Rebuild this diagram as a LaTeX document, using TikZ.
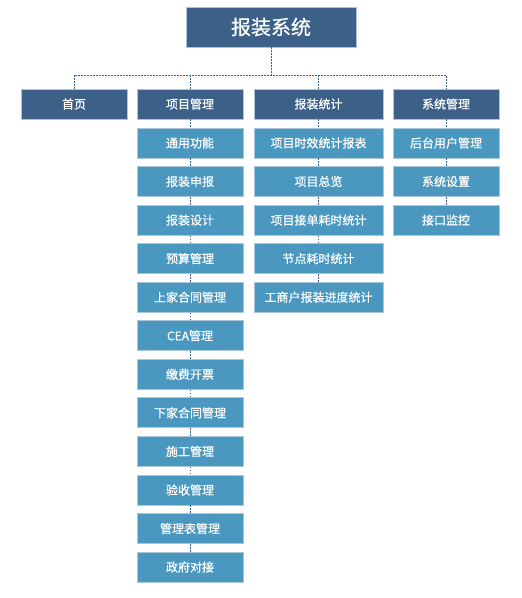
\documentclass[tikz,border=0pt]{standalone}
\usepackage{fontspec}
\setmainfont{Noto Sans CJK SC}[FakeBold=0.6]
\begin{document}
\begin{tikzpicture}[x=1pt,y=-1pt,
  dark/.style={fill=boxdark,draw=edge,line width=0.8pt,text=white,inner sep=0pt},
  light/.style={fill=boxlight,draw=edge,line width=0.8pt,text=white,inner sep=0pt},
  lvl/.style={dark,minimum height=30pt,font=\fontsize{12}{14}\selectfont},
  col/.style={minimum width=106pt},
  wcol/.style={minimum width=129pt},
  kid/.style={light,minimum height=30pt,font=\fontsize{12}{14}\selectfont},
  link/.style={draw=linec,line width=1pt,dash pattern=on 1.6pt off 1.4pt}]
\definecolor{boxdark}{HTML}{3C6088}
\definecolor{boxlight}{HTML}{4A98BF}
\definecolor{edge}{HTML}{A9C6DA}
\definecolor{linec}{HTML}{3E5E86}
\useasboundingbox (0,0) rectangle (522,598);
\node[dark,minimum width=170pt,minimum height=40pt,font=\fontsize{20}{24}\selectfont] (top) at (271,27) {报装系统};
\coordinate (bus) at (0,75);
\node[lvl,col] (home) at (74,104) {首页};
\node[lvl,col] (proj) at (190,104) {项目管理};
\node[lvl,wcol] (stat) at (318.5,104) {报装统计};
\node[lvl,col] (sysm) at (446,104) {系统管理};
% project column
\foreach \n/\t [count=\i from 0] in {p1/通用功能,p2/报装申报,p3/报装设计,p4/预算管理,p5/上家合同管理,p6/CEA管理,p7/缴费开票,p8/下家合同管理,p9/施工管理,p10/验收管理,p11/管理表管理,p12/政府对接}
  \node[kid,col] (\n) at (190,{143+38.55*\i}) {\t};
\foreach \n/\t [count=\i from 0] in {s1/项目时效统计报表,s2/项目总览,s3/项目接单耗时统计,s4/节点耗时统计,s5/工商户报装进度统计}
  \node[kid,wcol] (\n) at (318.5,{143+38.55*\i}) {\t};
\foreach \n/\t [count=\i from 0] in {m1/后台用户管理,m2/系统设置,m3/接口监控}
  \node[kid,col] (\n) at (446,{143+38.55*\i}) {\t};
% connectors
\draw[link] (top.south) -- (top.south |- bus);
\draw[link] (home.north) |- (bus -| sysm.north) -- (sysm.north);
\draw[link] (bus -| proj.north) -- (proj.north);
\draw[link] (bus -| stat.north) -- (stat.north);
\draw[link] (proj.south) -- (p1.north);
\foreach \a/\b in {p1/p2,p2/p3,p3/p4,p4/p5,p5/p6,p6/p7,p7/p8,p8/p9,p9/p10,p10/p11,p11/p12}
  \draw[link] (\a.south) -- (\b.north);
\draw[link] (stat.south) -- (s1.north);
\foreach \a/\b in {s1/s2,s2/s3,s3/s4,s4/s5}
  \draw[link] (\a.south) -- (\b.north);
\draw[link] (sysm.south) -- (m1.north);
\foreach \a/\b in {m1/m2,m2/m3}
  \draw[link] (\a.south) -- (\b.north);
\end{tikzpicture}
\end{document}
